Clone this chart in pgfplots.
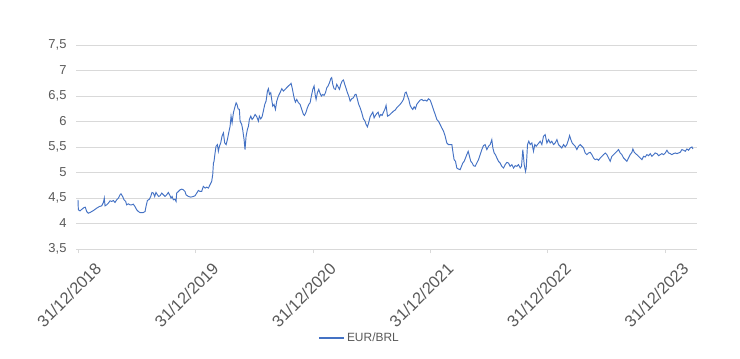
\documentclass[border=0pt]{standalone}
\usepackage{fontspec}
\setmainfont{Liberation Sans}
\usepackage{pgfplots}
\pgfplotsset{compat=1.18}
\usepackage{pgfplotstable}
\definecolor{serie}{RGB}{68,114,196}
\definecolor{gridc}{RGB}{217,217,217}
\definecolor{txt}{RGB}{89,89,89}
\pgfplotstableread{
t v
2019.000 4.464
2019.003 4.268
2019.017 4.248
2019.034 4.281
2019.051 4.313
2019.062 4.320
2019.074 4.235
2019.088 4.202
2019.102 4.215
2019.131 4.254
2019.159 4.300
2019.182 4.333
2019.202 4.346
2019.216 4.412
2019.224 4.497
2019.230 4.346
2019.244 4.366
2019.258 4.399
2019.273 4.445
2019.287 4.432
2019.301 4.451
2019.315 4.412
2019.329 4.464
2019.344 4.497
2019.358 4.563
2019.366 4.583
2019.380 4.530
2019.392 4.464
2019.406 4.432
2019.414 4.366
2019.429 4.386
2019.443 4.366
2019.457 4.366
2019.471 4.379
2019.485 4.333
2019.500 4.268
2019.514 4.235
2019.528 4.215
2019.556 4.215
2019.571 4.235
2019.579 4.333
2019.591 4.451
2019.608 4.477
2019.619 4.530
2019.630 4.609
2019.642 4.596
2019.653 4.530
2019.664 4.609
2019.676 4.563
2019.687 4.530
2019.698 4.543
2019.713 4.596
2019.727 4.563
2019.741 4.530
2019.755 4.563
2019.769 4.609
2019.784 4.543
2019.792 4.497
2019.801 4.530
2019.812 4.464
2019.826 4.477
2019.835 4.432
2019.840 4.596
2019.855 4.628
2019.869 4.661
2019.883 4.674
2019.897 4.661
2019.911 4.628
2019.920 4.563
2019.940 4.530
2019.960 4.517
2019.982 4.530
2019.996 4.543
2020.011 4.596
2020.025 4.648
2020.039 4.628
2020.053 4.628
2020.067 4.727
2020.082 4.694
2020.096 4.714
2020.110 4.694
2020.124 4.760
2020.138 4.825
2020.147 4.957
2020.153 5.186
2020.158 5.219
2020.167 5.383
2020.175 5.514
2020.187 5.547
2020.195 5.416
2020.204 5.514
2020.215 5.580
2020.226 5.711
2020.238 5.777
2020.249 5.580
2020.261 5.547
2020.272 5.645
2020.283 5.777
2020.295 5.908
2020.303 6.105
2020.312 5.974
2020.323 6.170
2020.334 6.269
2020.346 6.367
2020.354 6.335
2020.363 6.249
2020.374 6.236
2020.380 6.006
2020.394 5.941
2020.402 5.842
2020.414 5.645
2020.422 5.449
2020.431 5.711
2020.442 5.842
2020.451 5.908
2020.459 6.039
2020.471 6.105
2020.482 6.039
2020.493 6.072
2020.508 6.138
2020.522 6.092
2020.536 6.006
2020.544 6.105
2020.556 6.052
2020.567 6.092
2020.578 6.203
2020.590 6.335
2020.601 6.400
2020.613 6.597
2020.621 6.643
2020.630 6.531
2020.641 6.564
2020.649 6.433
2020.658 6.302
2020.669 6.335
2020.681 6.236
2020.692 6.400
2020.706 6.499
2020.720 6.564
2020.735 6.643
2020.749 6.597
2020.763 6.630
2020.777 6.663
2020.791 6.696
2020.806 6.728
2020.814 6.748
2020.825 6.643
2020.834 6.531
2020.843 6.433
2020.851 6.380
2020.862 6.433
2020.877 6.367
2020.891 6.335
2020.905 6.236
2020.919 6.138
2020.928 6.118
2020.939 6.170
2020.953 6.269
2020.965 6.335
2020.976 6.367
2020.987 6.499
2020.999 6.630
2021.010 6.696
2021.019 6.531
2021.027 6.433
2021.038 6.564
2021.050 6.630
2021.061 6.551
2021.072 6.499
2021.084 6.531
2021.095 6.512
2021.107 6.564
2021.118 6.663
2021.129 6.696
2021.141 6.761
2021.152 6.840
2021.160 6.859
2021.169 6.728
2021.180 6.643
2021.192 6.630
2021.203 6.728
2021.214 6.682
2021.226 6.630
2021.237 6.728
2021.249 6.794
2021.260 6.814
2021.271 6.728
2021.283 6.643
2021.294 6.564
2021.305 6.499
2021.317 6.400
2021.331 6.446
2021.345 6.466
2021.359 6.531
2021.368 6.531
2021.379 6.433
2021.390 6.335
2021.402 6.269
2021.416 6.170
2021.430 6.052
2021.444 6.006
2021.453 5.941
2021.464 5.895
2021.476 5.987
2021.487 6.092
2021.498 6.138
2021.510 6.184
2021.521 6.072
2021.532 6.118
2021.544 6.157
2021.555 6.184
2021.566 6.092
2021.578 6.138
2021.589 6.118
2021.601 6.184
2021.612 6.236
2021.623 6.315
2021.635 6.105
2021.646 6.118
2021.657 6.138
2021.671 6.170
2021.686 6.203
2021.700 6.223
2021.714 6.269
2021.728 6.302
2021.742 6.335
2021.757 6.380
2021.771 6.433
2021.785 6.564
2021.794 6.577
2021.805 6.499
2021.816 6.433
2021.828 6.315
2021.839 6.269
2021.850 6.236
2021.862 6.289
2021.873 6.249
2021.884 6.335
2021.899 6.380
2021.913 6.420
2021.927 6.433
2021.941 6.407
2021.955 6.420
2021.970 6.400
2021.984 6.446
2021.998 6.420
2022.012 6.335
2022.026 6.236
2022.041 6.138
2022.055 6.039
2022.069 6.006
2022.083 5.941
2022.097 5.875
2022.112 5.810
2022.126 5.711
2022.140 5.580
2022.154 5.547
2022.168 5.547
2022.183 5.547
2022.191 5.416
2022.202 5.252
2022.214 5.219
2022.225 5.088
2022.239 5.068
2022.253 5.055
2022.265 5.121
2022.276 5.186
2022.288 5.219
2022.299 5.285
2022.310 5.350
2022.322 5.416
2022.333 5.317
2022.344 5.219
2022.356 5.186
2022.367 5.134
2022.381 5.121
2022.395 5.186
2022.410 5.252
2022.424 5.350
2022.438 5.449
2022.452 5.527
2022.466 5.547
2022.481 5.449
2022.495 5.514
2022.509 5.547
2022.523 5.645
2022.532 5.481
2022.543 5.383
2022.554 5.350
2022.566 5.285
2022.580 5.219
2022.594 5.186
2022.608 5.121
2022.623 5.088
2022.637 5.154
2022.651 5.199
2022.665 5.186
2022.679 5.121
2022.694 5.154
2022.708 5.088
2022.722 5.134
2022.736 5.121
2022.750 5.154
2022.765 5.088
2022.776 5.121
2022.787 5.449
2022.799 5.154
2022.810 5.022
2022.816 5.088
2022.827 5.547
2022.838 5.613
2022.850 5.547
2022.864 5.580
2022.878 5.416
2022.889 5.547
2022.901 5.514
2022.912 5.547
2022.924 5.580
2022.935 5.613
2022.949 5.547
2022.963 5.711
2022.977 5.744
2022.992 5.580
2023.006 5.645
2023.020 5.580
2023.034 5.613
2023.048 5.547
2023.063 5.580
2023.077 5.645
2023.091 5.547
2023.105 5.514
2023.119 5.481
2023.134 5.547
2023.148 5.501
2023.162 5.547
2023.176 5.645
2023.185 5.724
2023.196 5.645
2023.207 5.580
2023.219 5.547
2023.233 5.514
2023.247 5.449
2023.261 5.514
2023.276 5.547
2023.290 5.514
2023.304 5.481
2023.318 5.383
2023.332 5.350
2023.347 5.383
2023.361 5.396
2023.375 5.350
2023.389 5.285
2023.403 5.252
2023.418 5.265
2023.432 5.239
2023.446 5.285
2023.460 5.317
2023.474 5.350
2023.489 5.383
2023.503 5.350
2023.517 5.285
2023.531 5.219
2023.545 5.317
2023.560 5.350
2023.574 5.383
2023.588 5.416
2023.602 5.449
2023.616 5.383
2023.630 5.350
2023.645 5.285
2023.659 5.252
2023.673 5.219
2023.687 5.285
2023.701 5.350
2023.716 5.396
2023.724 5.462
2023.736 5.396
2023.747 5.370
2023.758 5.350
2023.772 5.317
2023.787 5.285
2023.801 5.252
2023.815 5.317
2023.829 5.304
2023.843 5.350
2023.858 5.330
2023.872 5.370
2023.886 5.317
2023.900 5.350
2023.914 5.383
2023.929 5.370
2023.943 5.330
2023.957 5.350
2023.971 5.370
2023.985 5.350
2024.000 5.383
2024.014 5.436
2024.028 5.383
2024.042 5.370
2024.056 5.350
2024.070 5.370
2024.085 5.383
2024.099 5.370
2024.113 5.383
2024.127 5.396
2024.141 5.449
2024.156 5.436
2024.170 5.416
2024.184 5.462
2024.198 5.436
2024.212 5.481
2024.227 5.501
2024.235 5.462
}\eurbrl
\begin{document}
\begin{tikzpicture}
\begin{axis}[
  at={(76bp,110bp)}, anchor=south west,
  scale only axis, width=621bp, height=204bp,
  xmin=2018.983, xmax=2024.27,
  ymin=3.5, ymax=7.5,
  ytick={3.5,4,...,7.5},
  xtick={2019,2020,2021,2022,2023,2024},
  xticklabels={31/12/2018,31/12/2019,31/12/2020,31/12/2021,31/12/2022,31/12/2023},
  axis x line*=bottom, axis y line*=left,
  y axis line style={draw=none},
  x axis line style={draw=gridc, line width=0.75bp, -},
  ymajorgrids, grid style={draw=gridc, line width=0.75bp},
  tick align=outside,
  xtick style={draw=gridc, line width=0.75bp},
  major tick length=4bp,
  ytick style={draw=none},
  /pgf/number format/assume math mode=true,
  /pgf/number format/use comma,
  yticklabel style={font=\fontsize{13}{15}\selectfont, text=txt, anchor=east, xshift=-2bp},
  xticklabel style={font=\fontsize{16.5}{19}\selectfont, text=txt, xshift=-9bp, yshift=-42bp, rotate=45, anchor=center},
  legend style={at={(0.456,-0.436)}, anchor=center, draw=none, fill=none,
    font=\fontsize{12}{14}\selectfont, text=txt},
  legend image code/.code={\draw[serie, line width=2.5bp] (0bp,0bp) -- (25bp,0bp);},
]
\addplot[serie, line width=0.95bp, mark=none] table[x=t, y=v] {\eurbrl};
\addlegendentry{EUR/BRL}
\end{axis}
\pgfresetboundingbox
\useasboundingbox (0,0) rectangle (740bp,359bp);
\end{tikzpicture}
\end{document}
